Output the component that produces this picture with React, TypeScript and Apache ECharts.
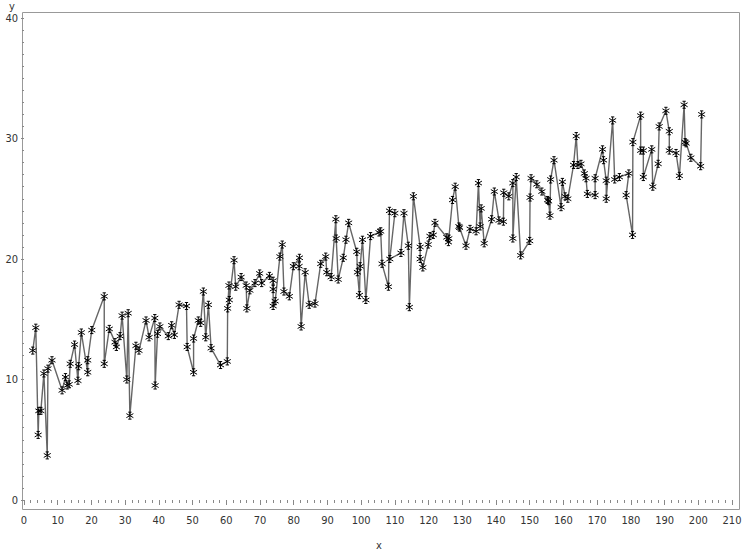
import React, { useEffect, useRef } from "react";
import * as echarts from "echarts";

const xValues: number[] = [
  2.6, 3.5, 4.2, 4.4, 5.0, 5.9, 6.9, 7.1, 8.3, 11.3, 12.3, 12.8, 13.4, 13.7, 15.0, 16.0, 16.2, 17.0, 18.9, 18.9,
  20.1, 23.8, 23.8, 25.3, 27.0, 27.4, 28.5, 29.1, 30.5, 30.9, 31.4, 33.2, 34.1, 36.2, 37.1, 38.8, 38.9, 39.6, 40.3, 42.8,
  43.8, 44.6, 46.0, 48.2, 48.4, 50.3, 50.3, 51.7, 52.4, 53.2, 53.9, 54.7, 55.5, 58.3, 60.3, 60.4, 60.8, 60.9, 62.3, 62.8,
  64.4, 65.9, 66.1, 67.0, 68.5, 69.9, 70.5, 72.8, 73.9, 73.9, 73.9, 74.5, 75.9, 76.6, 77.1, 78.7, 79.9, 81.7, 81.6, 82.2,
  83.4, 84.6, 86.3, 88.0, 89.5, 89.8, 91.1, 92.5, 92.6, 93.2, 94.7, 95.5, 96.3, 98.7, 98.9, 99.5, 99.7, 100.4, 101.4, 102.8,
  105.3, 105.8, 106.2, 108.1, 108.4, 110.0, 108.5, 111.8, 112.7, 114.0, 114.3, 115.5, 117.5, 117.5, 118.3, 119.9, 120.4, 121.4, 121.9, 125.4,
  125.9, 126.0, 127.1, 127.9, 129.0, 129.2, 131.1, 132.3, 134.1, 134.8, 135.3, 135.6, 136.5, 138.7, 139.5, 140.9, 142.2, 142.3, 143.8, 145.0,
  145.0, 146.0, 147.3, 150.0, 150.1, 150.4, 152.1, 153.6, 155.3, 155.6, 156.0, 156.2, 157.2, 159.3, 159.7, 160.5, 161.3, 163.0, 163.8, 164.3,
  165.2, 166.2, 166.7, 167.1, 169.4, 169.4, 171.6, 171.9, 172.7, 172.7, 174.6, 175.2, 176.6, 179.4, 178.6, 180.5, 180.6, 182.9, 182.9, 183.7,
  183.7, 186.2, 186.5, 188.1, 188.4, 190.4, 191.4, 191.4, 193.4, 194.4, 195.8, 196.1, 196.4, 197.8, 200.7, 201.0,
];

const yValues: number[] = [
  12.4, 14.3, 5.4, 7.4, 7.4, 10.5, 3.7, 10.9, 11.6, 9.1, 10.2, 9.5, 9.6, 11.3, 12.9, 9.9, 11.1, 13.9, 10.6, 11.6,
  14.1, 16.9, 11.3, 14.2, 13.1, 12.7, 13.6, 15.3, 10.0, 15.5, 7.0, 12.8, 12.4, 14.9, 13.5, 15.1, 9.5, 13.8, 14.4, 13.6,
  14.5, 13.7, 16.2, 16.1, 12.7, 10.6, 13.4, 14.9, 14.7, 17.3, 13.5, 16.2, 12.6, 11.2, 11.5, 15.9, 17.8, 16.6, 19.9, 17.7,
  18.5, 17.8, 15.9, 17.4, 18.0, 18.8, 18.0, 18.6, 18.2, 17.5, 16.1, 16.5, 20.2, 21.2, 17.3, 16.9, 19.4, 20.1, 19.4, 14.4,
  18.9, 16.2, 16.3, 19.6, 20.2, 18.9, 18.5, 23.3, 21.7, 18.3, 20.1, 21.6, 23.0, 20.6, 18.9, 17.0, 19.4, 21.6, 16.6, 21.9,
  22.2, 22.3, 19.6, 17.7, 24.0, 23.8, 20.0, 20.5, 23.8, 21.1, 16.0, 25.2, 21.0, 20.0, 19.3, 21.2, 21.9, 22.0, 23.0, 21.8,
  21.4, 21.7, 24.9, 26.0, 22.7, 22.6, 21.1, 22.5, 22.3, 26.3, 22.7, 24.2, 21.3, 23.3, 25.6, 23.2, 23.1, 25.5, 25.2, 26.3,
  21.7, 26.8, 20.3, 21.5, 25.1, 26.7, 26.2, 25.6, 24.9, 24.8, 23.6, 26.6, 28.2, 24.3, 26.4, 25.2, 25.0, 27.8, 30.2, 27.8,
  27.9, 27.1, 26.7, 25.4, 25.3, 26.7, 29.1, 28.2, 26.5, 25.0, 31.5, 26.6, 26.8, 27.1, 25.3, 22.0, 29.7, 31.9, 29.0, 29.0,
  26.8, 29.1, 26.0, 27.9, 31.0, 32.3, 30.6, 29.0, 28.8, 26.9, 32.8, 29.7, 29.6, 28.4, 27.7, 32.0,
];

const xTicks: number[] = [0, 10, 20, 30, 40, 50, 60, 70, 80, 90, 100, 110, 120, 130, 140, 150, 160, 170, 180, 190, 200, 210];
const yTicks: number[] = [0, 10, 20, 30, 40];

const STAR = "path://M3.5,0L3.5,7M2,0L5,0M2,7L5,7M0.3,1.5L6.7,5.5M0.3,5.5L6.7,1.5";
const FONT = "'DejaVu Sans Condensed', 'Liberation Sans Narrow', sans-serif";

export default function App() {
  const ref = useRef<HTMLDivElement>(null);
  useEffect(() => {
    if (!ref.current) return;
    const chart = echarts.init(ref.current, null, { renderer: "svg" });
    const data = xValues.map((x, i) => [x, yValues[i]]);
    chart.setOption({
      animation: false,
      backgroundColor: "#ffffff",
      grid: { left: 24, right: 14, top: 18, bottom: 50 },
      xAxis: {
        type: "value",
        min: xTicks[0],
        max: xTicks[xTicks.length - 1],
        interval: 10,
        offset: 10,
        axisLine: { show: false },
        axisTick: { show: true, length: 5, lineStyle: { color: "#888" } },
        minorTick: { show: true, splitNumber: 5, length: 3, lineStyle: { color: "#888" } },
        splitLine: { show: false },
        axisLabel: { color: "#333", fontSize: 11, fontFamily: FONT, margin: 5 },
      },
      yAxis: {
        type: "value",
        min: yTicks[0],
        max: yTicks[yTicks.length - 1],
        interval: 10,
        offset: 2,
        axisLine: { show: false },
        axisTick: { show: true, length: 3, lineStyle: { color: "#888" } },
        minorTick: { show: true, splitNumber: 10, length: 2, lineStyle: { color: "#888" } },
        splitLine: { show: false },
        axisLabel: { color: "#333", fontSize: 11, fontFamily: FONT, margin: 4 },
      },
      graphic: [
        {
          type: "rect",
          shape: { x: 22.5, y: 12.5, width: 717, height: 497 },
          style: { fill: "none", stroke: "#999", lineWidth: 1 },
          z: 0,
          silent: true,
        },
        {
          type: "text",
          x: 12,
          y: 6,
          style: { text: "y", fill: "#333", font: `11px ${FONT}`, align: "center", verticalAlign: "middle" },
        },
        {
          type: "text",
          x: 379,
          y: 545,
          style: { text: "x", fill: "#333", font: `11px ${FONT}`, align: "center", verticalAlign: "middle" },
        },
      ],
      series: [
        {
          type: "line",
          data,
          symbol: STAR,
          symbolSize: 7,
          showSymbol: true,
          lineStyle: { color: "#666", width: 1.4 },
          itemStyle: { color: "none", borderColor: "#000", borderWidth: 1 },
          emphasis: { disabled: true },
        },
      ],
    });
    return () => chart.dispose();
  }, []);
  return <div ref={ref} style={{ width: 746, height: 550, position: "absolute", left: 0, top: 0 }} />;
}
